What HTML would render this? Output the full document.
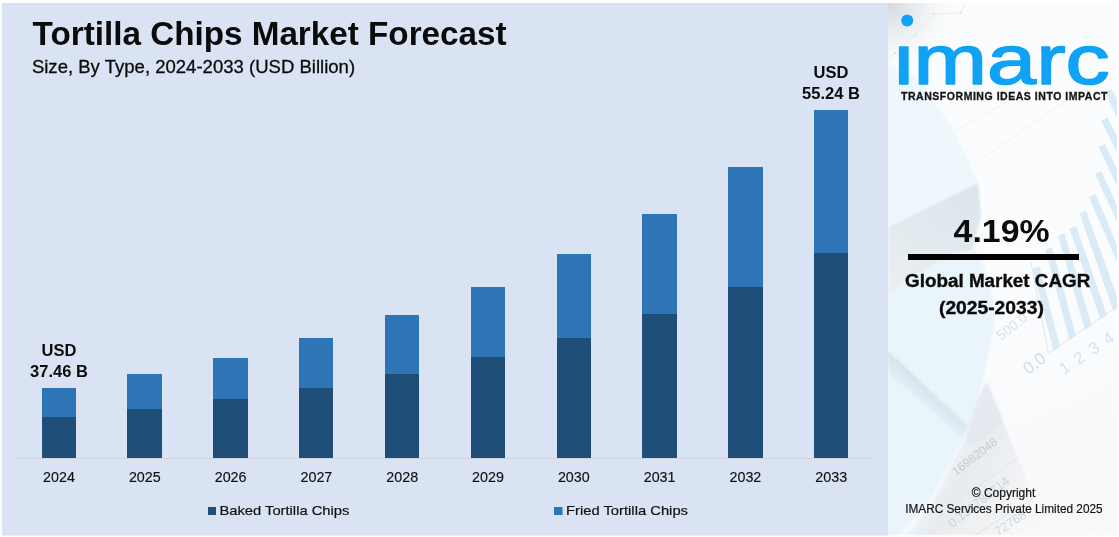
<!DOCTYPE html>
<html lang="en">
<head>
<meta charset="utf-8">
<title>Tortilla Chips Market Forecast</title>
<style>
  html, body { margin:0; padding:0; background:#ffffff; }
  body { width:1119px; height:537px; overflow:hidden; position:relative; }
  svg { position:absolute; left:0; top:0; display:block; }
  text { font-family:"Liberation Sans", sans-serif; fill:#0b0b0b; }
  .b { font-weight:bold; }
  .yr { font-size:14.3px; text-anchor:middle; fill:#101010; stroke:#101010; stroke-width:0.15px; }
  .lg { font-size:13.6px; fill:#101010; stroke:#101010; stroke-width:0.2px; }
  .val { font-size:16.5px; font-weight:bold; text-anchor:middle; fill:#0b0b0b; }
</style>
</head>
<body>
<svg width="1119" height="537" viewBox="0 0 1119 537">
  <!-- left chart panel -->
  <rect id="leftbg" x="2" y="3" width="886" height="532.5" fill="#dae3f3"/>
  <!-- right panel -->
  <defs>
    <clipPath id="rp"><rect x="888" y="3" width="229" height="532.5"/></clipPath>
    <filter id="bl2" x="-20%" y="-20%" width="140%" height="140%"><feGaussianBlur stdDeviation="1.2"/></filter>
    <filter id="bl5" x="-30%" y="-30%" width="160%" height="160%"><feGaussianBlur stdDeviation="5"/></filter>
    <filter id="bl05" x="-10%" y="-10%" width="120%" height="120%"><feGaussianBlur stdDeviation="0.5"/></filter>
    <radialGradient id="corner" cx="888" cy="3" r="75" gradientUnits="userSpaceOnUse">
      <stop offset="0" stop-color="#d4d9dd"/><stop offset="0.5" stop-color="#eceff1" stop-opacity="0.8"/><stop offset="1" stop-color="#fbfcfd" stop-opacity="0"/>
    </radialGradient>
    <linearGradient id="face" x1="978" y1="183" x2="900" y2="290" gradientUnits="userSpaceOnUse">
      <stop offset="0" stop-color="#d9e4ea"/><stop offset="0.55" stop-color="#e2eaef"/><stop offset="1" stop-color="#eaeef1"/>
    </linearGradient>
    <linearGradient id="pen" x1="930" y1="380" x2="918" y2="394" gradientUnits="userSpaceOnUse">
      <stop offset="0" stop-color="#c3ced7"/><stop offset="0.4" stop-color="#d9e2e9"/><stop offset="1" stop-color="#dfecf4"/>
    </linearGradient>
    <linearGradient id="paper" x1="940" y1="470" x2="1030" y2="520" gradientUnits="userSpaceOnUse">
      <stop offset="0" stop-color="#edf4f9"/><stop offset="0.22" stop-color="#e7ebef"/><stop offset="0.6" stop-color="#eff1f3"/><stop offset="1" stop-color="#f7f8f9"/>
    </linearGradient>
    <linearGradient id="base" x1="888" y1="0" x2="1117" y2="537" gradientUnits="userSpaceOnUse">
      <stop offset="0" stop-color="#fafcfd"/><stop offset="0.55" stop-color="#fbfcfd"/><stop offset="1" stop-color="#f7f8f9"/>
    </linearGradient>
  </defs>
  <g id="rightbg" clip-path="url(#rp)">
    <rect x="888" y="3" width="229" height="532.5" fill="url(#base)"/>
    <rect x="888" y="3" width="120" height="120" fill="url(#corner)"/>
    <!-- folded paper, upper light face -->
    <polygon points="888,66 915,76 954,130 978,183 888,227" fill="#eef7fb" filter="url(#bl2)"/>
    <!-- folded paper, grey face -->
    <polygon points="978,183 888,227 888,294 952,254 973,250 981,215" fill="url(#face)" filter="url(#bl2)"/>
    <!-- lower light-blue sheet -->
    <path d="M888,292 L952,253 L976,251 Q1002,300 991,340 Q984,380 968,430 L930,500 L899,535 L888,535 Z" fill="#e9f4fb" filter="url(#bl2)"/>
    <!-- bottom paper with numbers -->
    <path d="M987,382 L994,400 L1026,477 L1050,535 L905,535 Q935,505 945,477 L966,437 L977,400 Z" fill="url(#paper)" filter="url(#bl2)"/>
    <polygon points="987,382 994,400 1003,421 968,447 966,437 977,400" fill="#e4eaef" filter="url(#bl2)"/>
    <!-- pen -->
    <polygon points="888,351 968,426 962,437 888,372" fill="url(#pen)" filter="url(#bl2)"/>
    <!-- stripes (faded bar chart) -->
    <g fill="#d9ebf6" filter="url(#bl05)">
      <polygon points="1033,269 1039.5,266 1060,347 1053.5,351"/>
      <polygon points="1045.5,250 1052,247 1076,336 1069.5,340"/>
      <polygon points="1058,236 1064.5,233 1091.5,325.5 1085,330"/>
      <polygon points="1069.5,229 1076,226 1107,315 1100.5,319.5"/>
      <polygon points="1079.5,213.5 1086,210.5 1120,305 1113.5,311"/>
      <polygon points="1089,197 1095.5,194 1124,262 1117,262"/>
      <polygon points="1095,174 1101.5,171 1124,222 1117,222"/>
      <polygon points="1098.5,147 1105,144 1124,184 1117,186"/>
      <polygon points="1101,120.5 1107.5,117.5 1124,150 1117,152"/>
      <polygon points="1105,92 1111.5,89 1124,114 1117,118"/>
    </g>
    <!-- faded chart axis -->
    <path d="M1031,262 L1048.3,353 L1119,305.5" fill="none" stroke="#dbe6f0" stroke-width="1"/>
    <!-- faint grid lines upper area -->
    <path d="M954,131 L1010,100 M973,165 L1067,100" fill="none" stroke="#f0f2f4" stroke-width="1"/>
    <path d="M888,60 L895,53 L915,35 L933.5,14 L960.5,13 L965.5,3" fill="none" stroke="#e9ebed" stroke-width="1"/>
    <g fill="#dddfe1"><circle cx="895" cy="53" r="1"/><circle cx="915" cy="35" r="1"/><circle cx="933.5" cy="14" r="1"/><circle cx="960.5" cy="13" r="1"/></g>
    <!-- faint background figures -->
    <g filter="url(#bl05)">
      <text transform="translate(1028.5,375) rotate(-38)" style="fill:#d5dbec;font-size:17px">0.0</text>
      <text transform="translate(1001,341) rotate(-38)" style="fill:#d9dfee;font-size:14px">500.0</text>
      <text transform="translate(1064,375) rotate(-34)" style="fill:#d3e3f1;font-size:16.5px" textLength="62" lengthAdjust="spacing">1 2 3 4</text>
      <text transform="translate(956,476) rotate(-37.5)" style="fill:#c6cbd0;font-size:12px">16982048</text>
      <text transform="translate(952.5,528) rotate(-38)" style="fill:#ced2d7;font-size:12.6px">0.151785714</text>
      <text transform="translate(998,536) rotate(-33)" style="fill:#d2d6da;font-size:12.6px">72768</text>
    </g>
    <path d="M968,447 L1003,421 M958,500 L1018,458 M975,535 L1040,494" fill="none" stroke="#e0e4e8" stroke-width="1"/>
  </g>

  <!-- title -->
  <text id="title" class="b" x="32.6" y="45" font-size="32.6" textLength="474" lengthAdjust="spacingAndGlyphs">Tortilla Chips Market Forecast</text>
  <text id="subtitle" x="31.9" y="72.9" font-size="18.7" textLength="323.2" lengthAdjust="spacingAndGlyphs" style="stroke:#0b0b0b;stroke-width:0.3px">Size, By Type, 2024-2033 (USD Billion)</text>

  <!-- axis -->
  <rect x="16" y="458" width="858" height="1" fill="#d2d6de"/>

  <!-- bars -->
  <g id="bars" shape-rendering="crispEdges">
    <g fill="#1f4e79">
      <rect x="42" y="417" width="34" height="41"/>
      <rect x="127" y="409" width="35" height="49"/>
      <rect x="213" y="399" width="35" height="59"/>
      <rect x="299" y="388" width="34" height="70"/>
      <rect x="385" y="374" width="34" height="84"/>
      <rect x="471" y="357" width="34" height="101"/>
      <rect x="557" y="338" width="34" height="120"/>
      <rect x="642" y="314" width="35" height="144"/>
      <rect x="728" y="287" width="35" height="171"/>
      <rect x="814" y="253" width="34" height="205"/>
    </g>
    <g fill="#2e75b6">
      <rect x="42" y="388" width="34" height="29"/>
      <rect x="127" y="374" width="35" height="35"/>
      <rect x="213" y="358" width="35" height="41"/>
      <rect x="299" y="338" width="34" height="50"/>
      <rect x="385" y="315" width="34" height="59"/>
      <rect x="471" y="287" width="34" height="70"/>
      <rect x="557" y="254" width="34" height="84"/>
      <rect x="642" y="214" width="35" height="100"/>
      <rect x="728" y="167" width="35" height="120"/>
      <rect x="814" y="110" width="34" height="143"/>
    </g>
  </g>

  <!-- year labels -->
  <g id="years">
    <text class="yr" x="59" y="482">2024</text>
    <text class="yr" x="144.8" y="482">2025</text>
    <text class="yr" x="230.6" y="482">2026</text>
    <text class="yr" x="316.4" y="482">2027</text>
    <text class="yr" x="402.2" y="482">2028</text>
    <text class="yr" x="488" y="482">2029</text>
    <text class="yr" x="573.8" y="482">2030</text>
    <text class="yr" x="659.6" y="482">2031</text>
    <text class="yr" x="745.4" y="482">2032</text>
    <text class="yr" x="831.2" y="482">2033</text>
  </g>

  <!-- value labels -->
  <text class="val" x="59" y="355.6">USD</text>
  <text class="val" x="59" y="376.7">37.46 B</text>
  <text class="val" x="831" y="77.5">USD</text>
  <text class="val" x="831" y="98.9">55.24 B</text>

  <!-- legend -->
  <rect x="208" y="507" width="8" height="8" fill="#1f4e79"/>
  <text class="lg" x="219.4" y="515" textLength="130" lengthAdjust="spacingAndGlyphs">Baked Tortilla Chips</text>
  <rect x="554" y="507" width="8.5" height="8" fill="#2e75b6"/>
  <text class="lg" x="566" y="515" textLength="122" lengthAdjust="spacingAndGlyphs">Fried Tortilla Chips</text>

  <!-- logo -->
  <defs>
    <clipPath id="nodot"><rect x="890" y="43" width="227" height="50"/></clipPath>
  </defs>
  <circle cx="907.2" cy="20.5" r="6" fill="#10a2f5"/>
  <text id="logo" x="893.9" y="83.8" font-size="71.3" style="fill:#10a2f5;stroke:#10a2f5;stroke-width:1.6px;stroke-linejoin:round" clip-path="url(#nodot)" textLength="215.8" lengthAdjust="spacingAndGlyphs">imarc</text>
  <text id="tagline" class="b" x="901" y="99.9" font-size="10.5" style="fill:#151515;stroke:#151515;stroke-width:0.3px" textLength="206.5" lengthAdjust="spacing">TRANSFORMING IDEAS INTO IMPACT</text>

  <!-- CAGR -->
  <text id="cagr" class="b" x="953.6" y="241.7" font-size="32" textLength="96" lengthAdjust="spacingAndGlyphs">4.19%</text>
  <rect x="908" y="254" width="171" height="6" fill="#000"/>
  <text id="gmc" class="b" x="905.1" y="287" font-size="17.6" textLength="185.2" lengthAdjust="spacingAndGlyphs" style="stroke:#0b0b0b;stroke-width:0.35px">Global Market CAGR</text>
  <text id="rng" class="b" x="939" y="313.7" font-size="17.6" textLength="104.8" lengthAdjust="spacingAndGlyphs" style="stroke:#0b0b0b;stroke-width:0.35px">(2025-2033)</text>

  <!-- copyright -->
  <text id="c1" x="1003.5" y="497" font-size="12" text-anchor="middle" style="fill:#141414;stroke:#141414;stroke-width:0.2px">© Copyright</text>
  <text id="c2" x="905.2" y="513" font-size="12" textLength="197.4" lengthAdjust="spacingAndGlyphs" style="fill:#141414;stroke:#141414;stroke-width:0.2px">IMARC Services Private Limited 2025</text>
</svg>
</body>
</html>
